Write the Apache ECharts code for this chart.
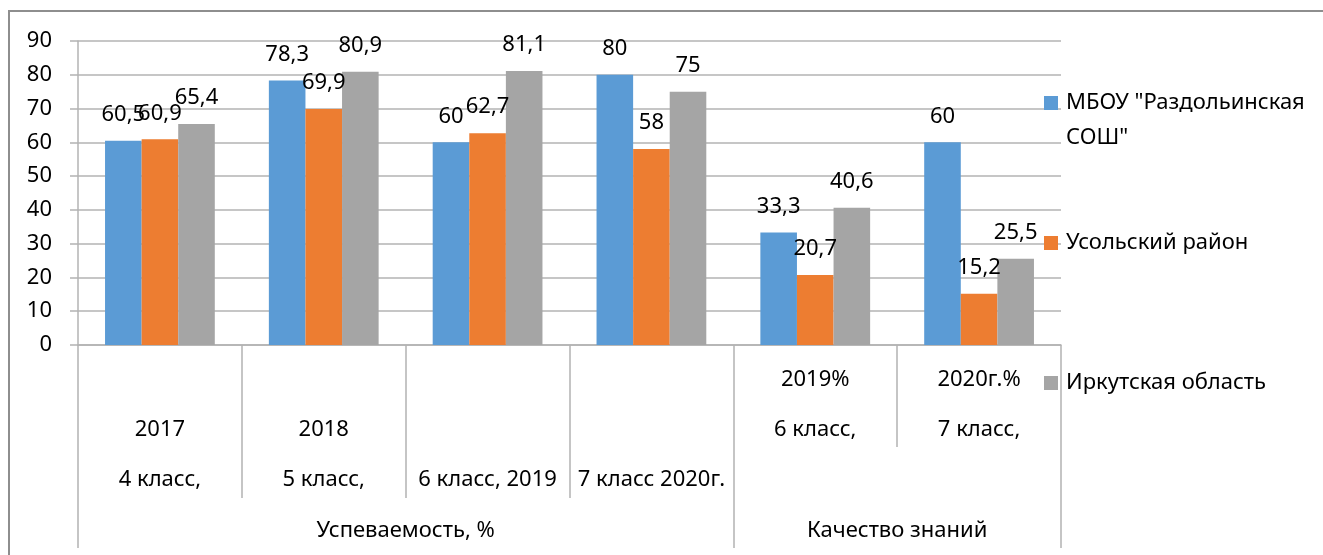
<!DOCTYPE html>
<html>
<head>
<meta charset="utf-8">
<script src="https://cdn.jsdelivr.net/npm/echarts@6.0.0/dist/echarts.min.js"></script>
<style>
  html, body { margin: 0; padding: 0; background: #fff; overflow: hidden; }
  #frame { position: absolute; left: 8px; top: 10px; width: 1400px; height: 600px;
           border-top: 2px solid #8e8e8e; border-left: 2px solid #8e8e8e; }
  #chart { position: absolute; left: 0; top: 0; width: 1323px; height: 555px; }
</style>
</head>
<body>
<div id="frame"></div>
<div id="chart"></div>
<script>
// подписи категорий (двухуровневая ось)
const yearLabels = ['2017', '2018', '', '', '2019%', '2020г.%'];
const classLabels = ['4 класс,', '5 класс,', '6 класс, 2019', '7 класс 2020г.', '6 класс,', '7 класс,'];
const groupLabels = ['Успеваемость, %', 'Качество знаний'];
const groupSizes = [4, 2];

const seriesNames = ['МБОУ "Раздольинская СОШ"', 'Усольский район', 'Иркутская область'];
const schoolValues = [60.5, 78.3, 60, 80, 33.3, 60];
const districtValues = [60.9, 69.9, 62.7, 58, 20.7, 15.2];
const regionValues = [65.4, 80.9, 81.1, 75, 40.6, 25.5];

const yTicks = [0, 10, 20, 30, 40, 50, 60, 70, 80, 90];

const categories = classLabels.map((c, i) => c + ' ' + yearLabels[i]);

// границы и центры групп на "полуцелой" шкале
let groupBounds = [-0.5];
let groupCenters = [];
groupSizes.forEach(s => {
  const start = groupBounds[groupBounds.length - 1];
  groupCenters.push(start + s / 2);
  groupBounds.push(start + s);
});
let innerBounds = [];
for (let i = 0; i <= categories.length; i++) {
  // граница внутри второй группы короче — её нет в этом наборе
  if (i - 0.5 > groupBounds[1] && i - 0.5 < groupBounds[2]) continue;
  innerBounds.push(i - 0.5);
}

const font = 'Noto Sans';
const fs = 22;
const gridColor = '#b3b3b3';
const colors = ['#5B9BD5', '#ED7D31', '#A5A5A5'];

const chart = echarts.init(document.getElementById('chart'));

const barLabel = {
  show: true,
  position: 'top',
  distance: 15,
  color: '#000',
  fontFamily: font,
  fontSize: fs,
  formatter: p => String(p.value).replace('.', ',')
};

const makeLegend = (name, top, lines) => ({
  data: [name],
  left: 1044,
  top: top,
  padding: 0,
  itemWidth: 14,
  itemHeight: 14,
  icon: 'rect',
  orient: 'vertical',
  selectedMode: false,
  textStyle: { fontFamily: font, fontSize: fs, color: '#000', lineHeight: lines > 1 ? 35 : 22, padding: [0, 0, 0, 3] },
  formatter: n => n === seriesNames[0] ? '\nМБОУ "Раздольинская\nСОШ"' : n
});

chart.setOption({
  animation: false,
  color: colors,
  grid: { left: 78, right: 262, top: 41, bottom: 210 },
  legend: [
    makeLegend(seriesNames[0], 103 - 52.5, 3),
    makeLegend(seriesNames[1], 243 - 11, 1),
    makeLegend(seriesNames[2], 383 - 11, 1)
  ],
  xAxis: [
    {
      type: 'category',
      data: categories,
      position: 'bottom',
      axisLine: { lineStyle: { color: gridColor, width: 1.5 } },
      axisTick: { show: true, interval: 0, length: 102, lineStyle: { color: gridColor, width: 1.5 } },
      axisLabel: {
        interval: 0,
        margin: 22,
        color: '#000',
        fontFamily: font,
        fontSize: fs,
        lineHeight: 25,
        formatter: (v, i) => i >= groupSizes[0]
          ? yearLabels[i] + '\n\n' + classLabels[i]
          : '\n\n' + yearLabels[i] + '\n\n' + classLabels[i]
      }
    },
    {
      type: 'value',
      min: -0.5,
      max: categories.length - 0.5,
      position: 'bottom',
      axisLine: { show: false },
      splitLine: { show: false },
      axisLabel: { show: false },
      axisTick: { show: true, customValues: innerBounds, length: 153, lineStyle: { color: gridColor, width: 1.5 } }
    },
    {
      type: 'value',
      min: -0.5,
      max: categories.length - 0.5,
      position: 'bottom',
      axisLine: { show: false },
      splitLine: { show: false },
      axisTick: { show: true, customValues: groupBounds, length: 203, lineStyle: { color: gridColor, width: 1.5 } },
      axisLabel: {
        show: true,
        customValues: groupCenters,
        margin: 175,
        color: '#000',
        fontFamily: font,
        fontSize: fs,
        formatter: v => groupLabels[groupCenters.indexOf(v)]
      }
    }
  ],
  yAxis: {
    type: 'value',
    min: yTicks[0],
    max: yTicks[yTicks.length - 1],
    interval: 10,
    axisLine: { show: true, onZero: false, lineStyle: { color: gridColor, width: 1.5 } },
    axisTick: { show: true, length: 8, lineStyle: { color: gridColor, width: 1.5 } },
    axisLabel: { margin: 26, color: '#000', fontFamily: font, fontSize: fs },
    splitLine: { lineStyle: { color: gridColor, width: 1.5 } }
  },
  series: [
    { name: seriesNames[0], type: 'bar', data: schoolValues, barGap: '0%', barCategoryGap: '33%', label: barLabel },
    { name: seriesNames[1], type: 'bar', data: districtValues, barGap: '0%', barCategoryGap: '33%', label: barLabel },
    { name: seriesNames[2], type: 'bar', data: regionValues, barGap: '0%', barCategoryGap: '33%', label: barLabel }
  ]
});
</script>
</body>
</html>
